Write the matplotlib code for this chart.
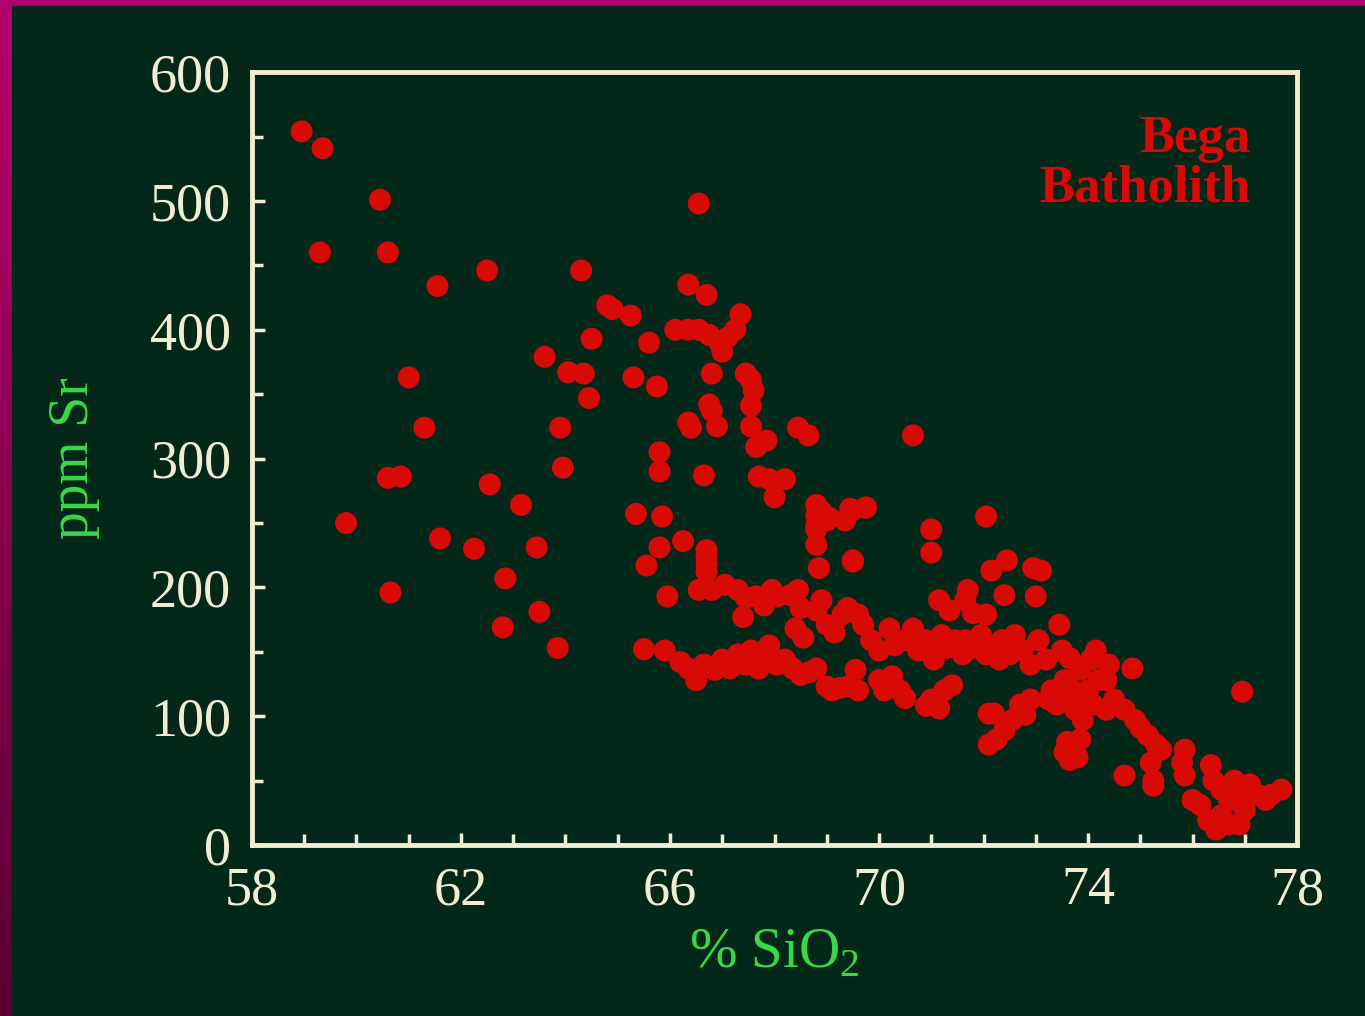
import numpy as np
import matplotlib
matplotlib.use("Agg")
from matplotlib import pyplot as plt
from matplotlib.patches import Rectangle
from matplotlib.colors import LinearSegmentedColormap

# Bega Batholith: SiO2 (%) vs Sr (ppm)
sio2 = [58.95, 59.35, 59.3, 59.8, 60.45, 60.6, 60.6, 60.85, 60.65, 61.0,
        61.3, 61.55, 61.6, 62.25, 62.5, 62.55, 62.8, 62.85, 63.15, 63.45,
        63.5, 63.6, 63.85, 63.9, 63.95, 64.05, 64.3, 64.35, 64.45, 64.5,
        64.8, 64.9, 65.25, 65.3, 65.35, 65.5, 65.55, 65.6, 65.75, 65.8,
        65.8, 65.8, 65.85, 65.9, 65.95, 66.1, 66.25, 66.35, 66.35, 66.35,
        66.4, 66.55, 66.55, 66.65, 66.7, 66.7, 66.7, 66.75, 66.75, 66.8,
        66.8, 66.9, 66.95, 67.0, 67.1, 67.25, 67.35, 67.45, 67.55, 67.55,
        67.55, 67.6, 67.65, 67.85, 67.7, 67.9, 68.0, 68.45, 68.65, 68.2,
        68.8, 68.8, 68.8, 68.85, 68.9, 69.0, 69.05, 69.35, 69.45, 69.75,
        69.5, 69.5, 70.65, 71.0, 71.0, 72.05, 71.15, 71.35, 71.7, 71.65,
        71.8, 72.15, 72.45, 72.4, 72.95, 73.1, 73.0, 72.05, 73.45,
        # upper band
        66.55, 66.8, 67.05, 67.3, 67.45, 67.4, 67.65, 67.8, 67.95, 68.05,
        68.3, 68.45, 68.5, 68.4, 68.55, 68.8, 68.9, 69.0, 69.15, 69.3,
        69.4, 69.6, 69.7, 69.85, 70.0, 70.2, 70.3, 70.5, 70.65, 70.75,
        70.9, 71.0, 71.05, 71.2, 71.3, 71.45, 71.6, 71.65, 71.8, 71.95,
        72.05, 72.1, 72.3, 72.35, 72.5, 72.6, 72.75, 72.9, 73.05, 73.2,
        # lower band
        66.2, 66.35, 66.5, 66.65, 66.85, 67.0, 67.15, 67.3, 67.45, 67.55,
        67.7, 67.85, 67.9, 68.05, 68.2, 68.35, 68.5, 68.65, 68.8, 69.0,
        69.1, 69.25, 69.4, 69.55, 69.6, 70.0, 70.1, 70.25, 70.4, 70.5,
        70.9, 71.0, 71.15, 71.25, 71.4,
        # high-silica tail
        72.1, 72.2, 72.1, 72.25, 72.4, 72.55, 72.7, 72.8, 72.9, 73.25,
        73.3, 73.4, 73.5, 73.55, 73.65, 73.7, 73.75, 73.8, 73.85, 73.9,
        74.0, 74.05, 74.1, 74.2, 73.55, 73.65, 73.8, 73.6, 73.85, 74.15,
        74.35, 74.4, 74.35, 74.5, 74.7, 74.85, 74.9, 75.0, 75.15, 75.3,
        75.4, 75.2, 74.7, 75.25, 75.25, 75.85, 75.8, 75.85, 76.0, 76.15,
        76.35, 76.4, 76.55, 76.3, 76.45, 76.55, 76.7, 76.7, 76.8, 76.9,
        77.0, 76.95, 77.1, 77.25, 77.4, 77.5, 77.7, 76.9, 66.7, 66.7,
        69.5, 69.75, 68.8, 68.8]
sr = [554, 541, 460, 250, 501, 460, 285, 286, 196, 363,
      324, 434, 238, 230, 446, 280, 169, 207, 264, 231,
      181, 379, 153, 324, 293, 367, 446, 366, 347, 393,
      419, 416, 411, 363, 257, 152, 217, 390, 356, 290,
      305, 231, 255, 151, 193, 400, 236, 435, 400, 328,
      324, 498, 400, 287, 427, 225, 212, 396, 342, 366,
      337, 325, 390, 383, 394, 400, 412, 366, 361, 325,
      341, 353, 309, 314, 286, 284, 270, 324, 318, 284,
      264, 248, 233, 215, 259, 252, 254, 252, 261, 262,
      221, 260, 318, 245, 227, 255, 190, 182, 198, 190,
      180, 213, 221, 194, 215, 213, 193, 179, 171,
      198, 198, 202, 198, 192, 177, 193, 186, 198, 193,
      194, 198, 184, 168, 161, 182, 190, 171, 165, 179,
      184, 179, 171, 159, 151, 168, 155, 159, 168, 151,
      159, 151, 144, 163, 153, 159, 148, 159, 153, 163,
      148, 155, 144, 159, 148, 163, 151, 140, 159, 144,
      142, 137, 128, 140, 136, 144, 137, 148, 140, 151,
      137, 144, 155, 140, 144, 137, 132, 134, 137, 123,
      120, 122, 123, 136, 120, 128, 120, 131, 120, 114,
      108, 113, 106, 120, 124,
      102, 102, 78, 82, 89, 97, 109, 101, 113, 113,
      120, 109, 151, 128, 145, 120, 105, 113, 136, 97,
      120, 144, 109, 128, 72, 66, 68, 80, 82, 151,
      128, 140, 105, 113, 105, 137, 97, 91, 85, 78,
      74, 64, 54, 50, 46, 74, 64, 54, 35, 31,
      62, 50, 43, 19, 12, 23, 35, 16, 50, 39,
      27, 119, 47, 39, 35, 39, 43, 16, 219, 229,
      220, 262, 245, 256]

bg = "#03281a"
cream = "#f2ecd2"
red = "#d80a06"
green = "#38d848"

plt.rcParams["font.family"] = ["Liberation Serif", "DejaVu Serif"]
plt.rcParams["mathtext.fontset"] = "custom"
plt.rcParams["mathtext.rm"] = "Liberation Serif"

fig = plt.figure(figsize=(13.65, 10.16), dpi=100, facecolor=bg)
ax = fig.add_axes([0.1846, 0.1683, 0.7656, 0.7607], facecolor=bg)

ax.scatter(sio2, sr, s=250, color=red, edgecolors="none", zorder=3)

ax.set_xlim(58, 78)
ax.set_ylim(0, 600)
ax.set_xticks(np.arange(58, 79, 4))
ax.set_xticks(np.arange(58, 79, 1), minor=True)
ax.set_yticks(np.arange(0, 601, 100))
ax.set_yticks(np.arange(0, 601, 50), minor=True)

for s in ax.spines.values():
    s.set_color(cream)
    s.set_linewidth(3.5)

ax.tick_params(which="both", direction="in", colors=cream, width=2.5,
               top=False, right=False)
ax.tick_params(which="major", length=9, labelsize=39)
ax.tick_params(axis="y", which="major", pad=15)
ax.tick_params(axis="x", which="major", pad=15)
ax.tick_params(which="minor", length=8)

ax.set_xlabel("% SiO$_2$", color=green, fontsize=41, labelpad=8)
ax.set_ylabel("ppm Sr", color=green, fontsize=40, labelpad=36)

ax.text(0.955, 0.945, "Bega\nBatholith", transform=ax.transAxes,
        ha="right", va="top", color=red, fontsize=38, fontweight="bold",
        linespacing=1.05)

# magenta slide border (top and left edges)
fig.patches.append(Rectangle((0, 1 - 5 / 1016), 1, 5 / 1016,
                             transform=fig.transFigure, color="#b0006a", zorder=0))
edge = fig.add_axes([0, 0, 12 / 1365, 1])
grad = np.linspace(0, 1, 256).reshape(-1, 1)
cm = LinearSegmentedColormap.from_list("edge", ["#b8006e", "#5a0030"])
edge.imshow(grad, aspect="auto", cmap=cm, extent=[0, 1, 0, 1])
edge.axis("off")

fig.savefig("out.png", dpi=100, facecolor=bg)
